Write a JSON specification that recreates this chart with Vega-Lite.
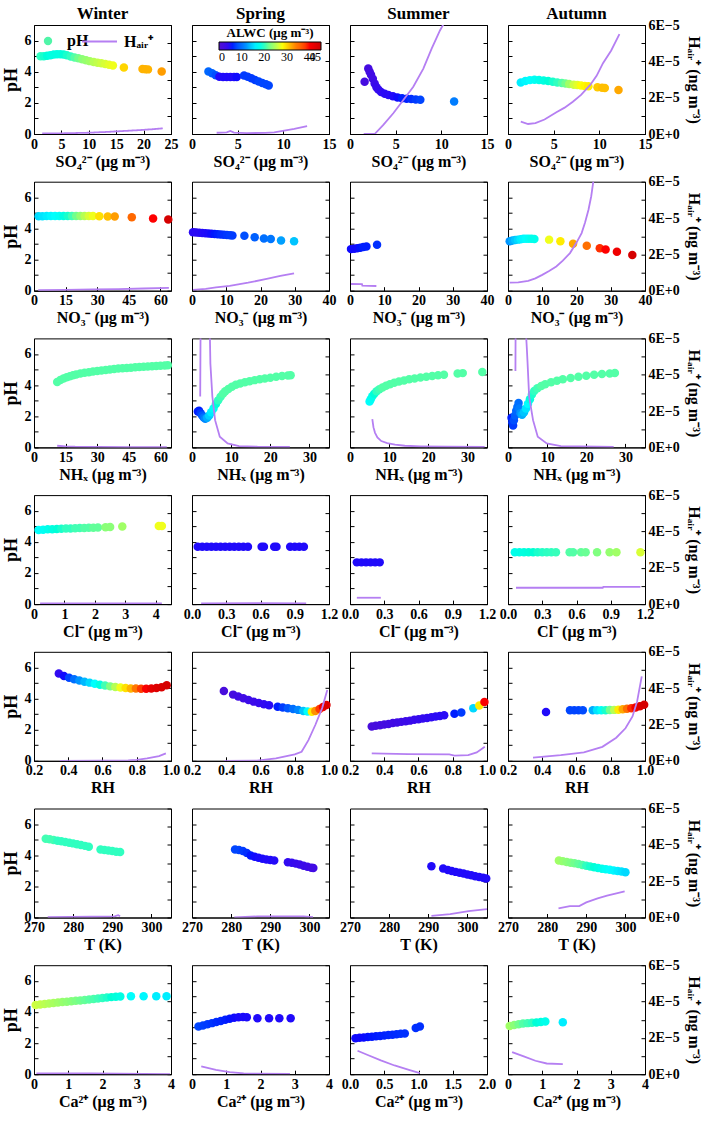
{
"$schema": "https://vega.github.io/schema/vega-lite/v6.json",
"background": "white",
"padding": {"left": 1, "top": 4, "right": 5, "bottom": 5},
"bounds": "flush",
"columns": 4,
"spacing": {"row": 47.7, "column": 21},
"concat": [
{"width": 137, "height": 109, "title": {"text": "Winter"},
 "encoding": {"x": {"field": "x", "type": "quantitative", "scale": {"domain": [0, 25]}, "axis": {"values": [0, 5, 10, 15, 20, 25], "title": "SO₄²⁻ (μg m⁻³)"}}},
 "layer": [
 {"data": {"values": [{"x":1.2,"y":5.0,"a":20},{"x":1.8,"y":5.0,"a":19.5},{"x":2.4,"y":5.02,"a":19},{"x":3.0,"y":5.06,"a":18.5},{"x":3.6,"y":5.1,"a":18.5},{"x":4.2,"y":5.12,"a":18.5},{"x":4.8,"y":5.12,"a":18.5},{"x":5.4,"y":5.1,"a":19},{"x":6.0,"y":5.05,"a":19.5},{"x":6.7,"y":4.98,"a":20},{"x":7.4,"y":4.92,"a":21},{"x":8.1,"y":4.86,"a":22},{"x":8.8,"y":4.8,"a":23},{"x":9.5,"y":4.74,"a":23.5},{"x":10.2,"y":4.68,"a":24},{"x":10.9,"y":4.63,"a":25},{"x":11.6,"y":4.58,"a":25.5},{"x":12.3,"y":4.54,"a":26},{"x":13.0,"y":4.5,"a":26.5},{"x":13.7,"y":4.45,"a":27},{"x":14.4,"y":4.4,"a":27.5},{"x":16.4,"y":4.27,"a":30},{"x":19.8,"y":4.17,"a":31.5},{"x":20.3,"y":4.16,"a":31.5},{"x":20.8,"y":4.15,"a":31.5},{"x":23.3,"y":4.02,"a":32.5}]},
  "mark": {"type": "point", "filled": true, "size": 72, "opacity": 1},
  "encoding": {
   "y": {"field": "y", "type": "quantitative", "scale": {"domain": [0, 7]}, "axis": {"orient": "left", "values": [0,1,2,3,4,5,6], "labelExpr": "datum.value % 2 == 0 ? datum.label : ''", "title": "pH", "titleFontSize": 18, "titlePadding": 4}},
   "color": {"field": "a", "type": "quantitative", "scale": {"domain": [0,5.625,11.25,16.875,22.5,28.125,33.75,39.375,45], "range": ["#5010d0","#0a0aff","#0080ff","#00ffff","#80ff80","#ffff00","#ff8000","#ff0000","#cc0000"]}, "legend": {"orient": "none", "legendX": 185, "legendY": 2, "direction": "horizontal", "title": "ALWC (μg m⁻³)", "titleFont": "Liberation Serif", "titleFontSize": 13, "titleFontWeight": "bold", "titleColor": "black", "titleAnchor": "middle", "titlePadding": 2, "gradientLength": 102, "gradientThickness": 8, "gradientStrokeColor": "black", "gradientStrokeWidth": 1, "values": [0, 10, 20, 30, 40, 45], "labelFont": "Liberation Serif", "labelFontSize": 12, "labelFontWeight": "normal", "labelColor": "black", "labelOverlap": false, "labelOffset": 2, "padding": 0}},
   "shape": {"datum": "pH", "type": "nominal", "scale": {"range": ["circle"]}, "legend": {"orient": "none", "legendX": 6, "legendY": 8, "title": null, "symbolSize": 70, "symbolFillColor": "#50f5a8", "symbolStrokeWidth": 0, "labelFont": "Liberation Serif", "labelFontSize": 16, "labelFontWeight": "bold", "labelColor": "black", "labelOffset": 11, "padding": 0}}
  }},
 {"data": {"values": [{"x":1.5,"h":3e-7},{"x":4,"h":3e-7},{"x":7,"h":5e-7},{"x":10,"h":7e-7},{"x":13,"h":1.1e-6},{"x":16,"h":1.6e-6},{"x":19,"h":2.1e-6},{"x":21.5,"h":2.6e-6},{"x":23.5,"h":3.1e-6}]},
  "mark": {"type": "line", "color": "#b57ff2", "strokeWidth": 1.8, "clip": true},
  "encoding": {
   "y": {"field": "h", "type": "quantitative", "scale": {"domain": [0, 0.00006]}, "axis": {"orient": "right", "values": [0,0.00001,0.00002,0.00003,0.00004,0.00005,0.00006], "labels": false, "title": null}},
   "strokeDash": {"datum": "Hₐᵢᵣ⁺", "type": "nominal", "scale": {"range": [[1, 0]]}, "legend": {"orient": "none", "legendX": 47, "legendY": -2, "title": null, "symbolSize": 1225, "symbolStrokeWidth": 2, "labelFont": "Liberation Serif", "labelFontSize": 16, "labelFontWeight": "bold", "labelColor": "black", "labelOffset": 6, "padding": 0}}
  }}
], "resolve": {"scale": {"y": "independent"}}},
{"width": 137, "height": 109, "title": {"text": "Spring"},
 "encoding": {"x": {"field": "x", "type": "quantitative", "scale": {"domain": [0, 15]}, "axis": {"values": [0, 5, 10, 15], "title": "SO₄²⁻ (μg m⁻³)"}}},
 "layer": [
 {"data": {"values": [{"x":1.8,"y":4.02,"a":9.5},{"x":2.2,"y":3.9,"a":9},{"x":2.6,"y":3.78,"a":8},{"x":3.0,"y":3.68,"a":5},{"x":3.4,"y":3.66,"a":5},{"x":3.8,"y":3.66,"a":5},{"x":4.2,"y":3.66,"a":5},{"x":4.6,"y":3.66,"a":5},{"x":4.9,"y":3.66,"a":5.5},{"x":5.7,"y":3.76,"a":7},{"x":6.1,"y":3.68,"a":7},{"x":6.5,"y":3.58,"a":7},{"x":6.9,"y":3.47,"a":7},{"x":7.3,"y":3.37,"a":7.5},{"x":7.7,"y":3.28,"a":7.5},{"x":8.1,"y":3.19,"a":7.5},{"x":8.4,"y":3.12,"a":7.5}]},
  "mark": {"type": "point", "filled": true, "size": 72, "opacity": 1},
  "encoding": {
   "y": {"field": "y", "type": "quantitative", "scale": {"domain": [0, 7]}, "axis": {"orient": "left", "values": [0,1,2,3,4,5,6], "labels": false, "title": null}},
   "color": {"field": "a", "type": "quantitative", "scale": {"domain": [0,5.625,11.25,16.875,22.5,28.125,33.75,39.375,45], "range": ["#5010d0","#0a0aff","#0080ff","#00ffff","#80ff80","#ffff00","#ff8000","#ff0000","#cc0000"]}}
  }},
 {"data": {"values": [{"x":2.7,"h":7e-7},{"x":3.8,"h":9e-7},{"x":4.2,"h":1.7e-6},{"x":4.6,"h":8e-7},{"x":6,"h":5e-7},{"x":8,"h":6e-7},{"x":9,"h":9e-7},{"x":10.1,"h":1.8e-6},{"x":11.2,"h":2.8e-6},{"x":12.6,"h":4.4e-6}]},
  "mark": {"type": "line", "color": "#b57ff2", "strokeWidth": 1.8, "clip": true},
  "encoding": {
   "y": {"field": "h", "type": "quantitative", "scale": {"domain": [0, 0.00006]}, "axis": {"orient": "right", "values": [0,0.00001,0.00002,0.00003,0.00004,0.00005,0.00006], "labels": false, "title": null}}
  }}
], "resolve": {"scale": {"y": "independent"}}},
{"width": 137, "height": 109, "title": {"text": "Summer"},
 "encoding": {"x": {"field": "x", "type": "quantitative", "scale": {"domain": [0, 15]}, "axis": {"values": [0, 5, 10, 15], "title": "SO₄²⁻ (μg m⁻³)"}}},
 "layer": [
 {"data": {"values": [{"x":1.6,"y":3.35,"a":2},{"x":2.0,"y":4.2,"a":2},{"x":2.15,"y":4.0,"a":2},{"x":2.3,"y":3.8,"a":2.5},{"x":2.5,"y":3.55,"a":2.5},{"x":2.7,"y":3.25,"a":3},{"x":2.9,"y":3.0,"a":3.5},{"x":3.1,"y":2.85,"a":3.5},{"x":3.4,"y":2.7,"a":4},{"x":3.8,"y":2.58,"a":4.5},{"x":4.2,"y":2.5,"a":4.5},{"x":4.7,"y":2.42,"a":5},{"x":5.2,"y":2.35,"a":5.5},{"x":5.7,"y":2.3,"a":6},{"x":6.2,"y":2.27,"a":6},{"x":6.7,"y":2.25,"a":6.5},{"x":7.2,"y":2.22,"a":7},{"x":7.7,"y":2.2,"a":7.5},{"x":11.4,"y":2.08,"a":11}]},
  "mark": {"type": "point", "filled": true, "size": 72, "opacity": 1},
  "encoding": {
   "y": {"field": "y", "type": "quantitative", "scale": {"domain": [0, 7]}, "axis": {"orient": "left", "values": [0,1,2,3,4,5,6], "labels": false, "title": null}},
   "color": {"field": "a", "type": "quantitative", "scale": {"domain": [0,5.625,11.25,16.875,22.5,28.125,33.75,39.375,45], "range": ["#5010d0","#0a0aff","#0080ff","#00ffff","#80ff80","#ffff00","#ff8000","#ff0000","#cc0000"]}}
  }},
 {"data": {"values": [{"x":1.5,"h":0},{"x":2.7,"h":0},{"x":3.65,"h":5e-6},{"x":4.74,"h":1.14e-5},{"x":5.84,"h":1.87e-5},{"x":6.93,"h":2.6e-5},{"x":8.03,"h":3.6e-5},{"x":8.94,"h":4.7e-5},{"x":9.85,"h":5.7e-5},{"x":10.4,"h":6.2e-5}]},
  "mark": {"type": "line", "color": "#b57ff2", "strokeWidth": 1.8, "clip": true},
  "encoding": {
   "y": {"field": "h", "type": "quantitative", "scale": {"domain": [0, 0.00006]}, "axis": {"orient": "right", "values": [0,0.00001,0.00002,0.00003,0.00004,0.00005,0.00006], "labels": false, "title": null}}
  }}
], "resolve": {"scale": {"y": "independent"}}},
{"width": 137, "height": 109, "title": {"text": "Autumn", "offset": -5},
 "encoding": {"x": {"field": "x", "type": "quantitative", "scale": {"domain": [0, 15]}, "axis": {"values": [0, 5, 10, 15], "title": "SO₄²⁻ (μg m⁻³)"}}},
 "layer": [
 {"data": {"values": [{"x":1.4,"y":3.3,"a":16},{"x":1.9,"y":3.4,"a":16.5},{"x":2.4,"y":3.46,"a":17},{"x":2.9,"y":3.48,"a":17.5},{"x":3.4,"y":3.47,"a":18},{"x":3.9,"y":3.44,"a":18.5},{"x":4.4,"y":3.4,"a":19},{"x":4.9,"y":3.35,"a":19.5},{"x":5.4,"y":3.3,"a":20},{"x":5.9,"y":3.27,"a":21},{"x":6.3,"y":3.24,"a":22},{"x":6.7,"y":3.21,"a":24},{"x":7.2,"y":3.17,"a":26},{"x":7.6,"y":3.14,"a":27},{"x":8.0,"y":3.11,"a":28},{"x":8.4,"y":3.08,"a":28.5},{"x":8.8,"y":3.06,"a":29},{"x":9.8,"y":3.0,"a":30.5},{"x":10.3,"y":2.97,"a":31},{"x":10.6,"y":2.95,"a":31},{"x":12.1,"y":2.82,"a":32}]},
  "mark": {"type": "point", "filled": true, "size": 72, "opacity": 1},
  "encoding": {
   "y": {"field": "y", "type": "quantitative", "scale": {"domain": [0, 7]}, "axis": {"orient": "left", "values": [0,1,2,3,4,5,6], "labels": false, "title": null}},
   "color": {"field": "a", "type": "quantitative", "scale": {"domain": [0,5.625,11.25,16.875,22.5,28.125,33.75,39.375,45], "range": ["#5010d0","#0a0aff","#0080ff","#00ffff","#80ff80","#ffff00","#ff8000","#ff0000","#cc0000"]}}
  }},
 {"data": {"values": [{"x":1.4,"h":6.8e-6},{"x":2.2,"h":5.5e-6},{"x":3,"h":6e-6},{"x":4,"h":8e-6},{"x":5.3,"h":1.2e-5},{"x":6.2,"h":1.45e-5},{"x":7.1,"h":1.78e-5},{"x":8,"h":2.15e-5},{"x":9,"h":2.7e-5},{"x":9.7,"h":3.2e-5},{"x":10.4,"h":3.9e-5},{"x":11.3,"h":4.6e-5},{"x":12.2,"h":5.5e-5}]},
  "mark": {"type": "line", "color": "#b57ff2", "strokeWidth": 1.8, "clip": true},
  "encoding": {
   "y": {"field": "h", "type": "quantitative", "scale": {"domain": [0, 0.00006]}, "axis": {"orient": "right", "values": [0,0.00001,0.00002,0.00003,0.00004,0.00005,0.00006], "labelExpr": "datum.value == 0 ? '0E+0' : (round(datum.value * 100000) % 2 == 0 ? round(datum.value * 100000) + 'E−5' : '')", "title": "Hₐᵢᵣ⁺ (ng m⁻³)", "titlePadding": 6}}
  }}
], "resolve": {"scale": {"y": "independent"}}},
{"width": 137, "height": 109,
 "encoding": {"x": {"field": "x", "type": "quantitative", "scale": {"domain": [0, 65]}, "axis": {"values": [0, 15, 30, 45, 60], "title": "NO₃⁻ (μg m⁻³)"}}},
 "layer": [
 {"data": {"values": [{"x":2.2,"y":4.78,"a":15},{"x":4,"y":4.78,"a":15.5},{"x":6,"y":4.79,"a":16},{"x":8,"y":4.79,"a":16.5},{"x":10,"y":4.79,"a":17},{"x":12,"y":4.79,"a":17.5},{"x":14,"y":4.79,"a":18.5},{"x":16,"y":4.8,"a":19.5},{"x":18,"y":4.8,"a":20.5},{"x":20,"y":4.8,"a":22},{"x":22,"y":4.8,"a":23.5},{"x":24,"y":4.8,"a":25},{"x":26,"y":4.8,"a":26.5},{"x":28,"y":4.79,"a":27.5},{"x":31,"y":4.78,"a":29.5},{"x":35,"y":4.77,"a":31},{"x":38.3,"y":4.76,"a":32.5},{"x":46.4,"y":4.72,"a":35.5},{"x":56.5,"y":4.63,"a":39.5},{"x":63.7,"y":4.57,"a":44}]},
  "mark": {"type": "point", "filled": true, "size": 72, "opacity": 1},
  "encoding": {
   "y": {"field": "y", "type": "quantitative", "scale": {"domain": [0, 7]}, "axis": {"orient": "left", "values": [0,1,2,3,4,5,6], "labelExpr": "datum.value % 2 == 0 ? datum.label : ''", "title": "pH", "titleFontSize": 18, "titlePadding": 4}},
   "color": {"field": "a", "type": "quantitative", "scale": {"domain": [0,5.625,11.25,16.875,22.5,28.125,33.75,39.375,45], "range": ["#5010d0","#0a0aff","#0080ff","#00ffff","#80ff80","#ffff00","#ff8000","#ff0000","#cc0000"]}}
  }},
 {"data": {"values": [{"x":2,"h":3e-7},{"x":15,"h":4e-7},{"x":28,"h":7e-7},{"x":40,"h":9e-7},{"x":52,"h":1.2e-6},{"x":64,"h":1.6e-6}]},
  "mark": {"type": "line", "color": "#b57ff2", "strokeWidth": 1.8, "clip": true},
  "encoding": {
   "y": {"field": "h", "type": "quantitative", "scale": {"domain": [0, 0.00006]}, "axis": {"orient": "right", "values": [0,0.00001,0.00002,0.00003,0.00004,0.00005,0.00006], "labels": false, "title": null}}
  }}
], "resolve": {"scale": {"y": "independent"}}},
{"width": 137, "height": 109,
 "encoding": {"x": {"field": "x", "type": "quantitative", "scale": {"domain": [0, 40]}, "axis": {"values": [0, 10, 20, 30, 40], "title": "NO₃⁻ (μg m⁻³)"}}},
 "layer": [
 {"data": {"values": [{"x":0.3,"y":3.75,"a":4.5},{"x":1.2,"y":3.74,"a":4.5},{"x":2.1,"y":3.72,"a":4.5},{"x":3.0,"y":3.71,"a":4.8},{"x":3.9,"y":3.69,"a":5},{"x":4.8,"y":3.68,"a":5.2},{"x":5.7,"y":3.66,"a":5.5},{"x":6.6,"y":3.64,"a":5.8},{"x":7.5,"y":3.63,"a":6},{"x":8.4,"y":3.61,"a":6.3},{"x":9.3,"y":3.6,"a":6.5},{"x":10.2,"y":3.58,"a":6.8},{"x":11.1,"y":3.56,"a":7},{"x":11.8,"y":3.55,"a":7},{"x":15.3,"y":3.53,"a":8},{"x":18.3,"y":3.43,"a":9},{"x":21,"y":3.35,"a":10},{"x":23,"y":3.32,"a":10.5},{"x":26,"y":3.23,"a":12.5},{"x":29.8,"y":3.17,"a":14}]},
  "mark": {"type": "point", "filled": true, "size": 72, "opacity": 1},
  "encoding": {
   "y": {"field": "y", "type": "quantitative", "scale": {"domain": [0, 7]}, "axis": {"orient": "left", "values": [0,1,2,3,4,5,6], "labels": false, "title": null}},
   "color": {"field": "a", "type": "quantitative", "scale": {"domain": [0,5.625,11.25,16.875,22.5,28.125,33.75,39.375,45], "range": ["#5010d0","#0a0aff","#0080ff","#00ffff","#80ff80","#ffff00","#ff8000","#ff0000","#cc0000"]}}
  }},
 {"data": {"values": [{"x":0.3,"h":4e-7},{"x":4,"h":1e-6},{"x":7,"h":1.8e-6},{"x":11,"h":2.6e-6},{"x":16.4,"h":4.4e-6},{"x":21.8,"h":6.5e-6},{"x":25.8,"h":8.1e-6},{"x":29.8,"h":9.6e-6}]},
  "mark": {"type": "line", "color": "#b57ff2", "strokeWidth": 1.8, "clip": true},
  "encoding": {
   "y": {"field": "h", "type": "quantitative", "scale": {"domain": [0, 0.00006]}, "axis": {"orient": "right", "values": [0,0.00001,0.00002,0.00003,0.00004,0.00005,0.00006], "labels": false, "title": null}}
  }}
], "resolve": {"scale": {"y": "independent"}}},
{"width": 137, "height": 109,
 "encoding": {"x": {"field": "x", "type": "quantitative", "scale": {"domain": [0, 40]}, "axis": {"values": [0, 10, 20, 30, 40], "title": "NO₃⁻ (μg m⁻³)"}}},
 "layer": [
 {"data": {"values": [{"x":0.3,"y":2.67,"a":5.5},{"x":1.2,"y":2.7,"a":5.5},{"x":2.1,"y":2.73,"a":5.5},{"x":3.0,"y":2.76,"a":5.8},{"x":3.9,"y":2.8,"a":6},{"x":4.8,"y":2.84,"a":6},{"x":7.9,"y":2.95,"a":6.5}]},
  "mark": {"type": "point", "filled": true, "size": 72, "opacity": 1},
  "encoding": {
   "y": {"field": "y", "type": "quantitative", "scale": {"domain": [0, 7]}, "axis": {"orient": "left", "values": [0,1,2,3,4,5,6], "labels": false, "title": null}},
   "color": {"field": "a", "type": "quantitative", "scale": {"domain": [0,5.625,11.25,16.875,22.5,28.125,33.75,39.375,45], "range": ["#5010d0","#0a0aff","#0080ff","#00ffff","#80ff80","#ffff00","#ff8000","#ff0000","#cc0000"]}}
  }},
 {"data": {"values": [{"x":0.3,"h":3.7e-6},{"x":3.5,"h":3.6e-6},{"x":3.6,"h":2.8e-6},{"x":7.7,"h":2.6e-6}]},
  "mark": {"type": "line", "color": "#b57ff2", "strokeWidth": 1.8, "clip": true},
  "encoding": {
   "y": {"field": "h", "type": "quantitative", "scale": {"domain": [0, 0.00006]}, "axis": {"orient": "right", "values": [0,0.00001,0.00002,0.00003,0.00004,0.00005,0.00006], "labels": false, "title": null}}
  }}
], "resolve": {"scale": {"y": "independent"}}},
{"width": 137, "height": 109,
 "encoding": {"x": {"field": "x", "type": "quantitative", "scale": {"domain": [0, 40]}, "axis": {"values": [0, 10, 20, 30, 40], "title": "NO₃⁻ (μg m⁻³)"}}},
 "layer": [
 {"data": {"values": [{"x":0.5,"y":3.17,"a":12},{"x":1.3,"y":3.22,"a":13},{"x":2.1,"y":3.26,"a":14},{"x":2.9,"y":3.28,"a":15},{"x":3.7,"y":3.31,"a":16},{"x":4.5,"y":3.33,"a":16.5},{"x":5.3,"y":3.34,"a":17},{"x":6.1,"y":3.34,"a":17.5},{"x":6.9,"y":3.33,"a":18},{"x":7.7,"y":3.32,"a":18},{"x":12,"y":3.28,"a":27.5},{"x":15.3,"y":3.17,"a":29},{"x":19,"y":3.02,"a":32},{"x":23,"y":2.89,"a":35},{"x":26.8,"y":2.72,"a":38.5},{"x":28.5,"y":2.65,"a":39.5},{"x":31.8,"y":2.5,"a":41},{"x":36.3,"y":2.3,"a":44}]},
  "mark": {"type": "point", "filled": true, "size": 72, "opacity": 1},
  "encoding": {
   "y": {"field": "y", "type": "quantitative", "scale": {"domain": [0, 7]}, "axis": {"orient": "left", "values": [0,1,2,3,4,5,6], "labels": false, "title": null}},
   "color": {"field": "a", "type": "quantitative", "scale": {"domain": [0,5.625,11.25,16.875,22.5,28.125,33.75,39.375,45], "range": ["#5010d0","#0a0aff","#0080ff","#00ffff","#80ff80","#ffff00","#ff8000","#ff0000","#cc0000"]}}
  }},
 {"data": {"values": [{"x":0.5,"h":4.4e-6},{"x":3,"h":4.6e-6},{"x":5.9,"h":5.4e-6},{"x":8,"h":6.8e-6},{"x":10,"h":8.7e-6},{"x":12,"h":1.08e-5},{"x":14.1,"h":1.33e-5},{"x":16,"h":1.65e-5},{"x":18.1,"h":2.07e-5},{"x":20,"h":2.65e-5},{"x":21.5,"h":3.17e-5},{"x":22.5,"h":3.75e-5},{"x":23.5,"h":4.46e-5},{"x":24.3,"h":5.2e-5},{"x":24.9,"h":6.0e-5},{"x":25.4,"h":6.7e-5}]},
  "mark": {"type": "line", "color": "#b57ff2", "strokeWidth": 1.8, "clip": true},
  "encoding": {
   "y": {"field": "h", "type": "quantitative", "scale": {"domain": [0, 0.00006]}, "axis": {"orient": "right", "values": [0,0.00001,0.00002,0.00003,0.00004,0.00005,0.00006], "labelExpr": "datum.value == 0 ? '0E+0' : (round(datum.value * 100000) % 2 == 0 ? round(datum.value * 100000) + 'E−5' : '')", "title": "Hₐᵢᵣ⁺ (ng m⁻³)", "titlePadding": 6}}
  }}
], "resolve": {"scale": {"y": "independent"}}},
{"width": 137, "height": 109,
 "encoding": {"x": {"field": "x", "type": "quantitative", "scale": {"domain": [0, 65]}, "axis": {"values": [0, 15, 30, 45, 60], "title": "NHₓ (μg m⁻³)"}}},
 "layer": [
 {"data": {"values": [{"x":11,"y":4.2,"a":21},{"x":12.5,"y":4.33,"a":21},{"x":14,"y":4.42,"a":21},{"x":15.5,"y":4.5,"a":21},{"x":17,"y":4.57,"a":21},{"x":18.5,"y":4.63,"a":21},{"x":20,"y":4.68,"a":21},{"x":22,"y":4.74,"a":21},{"x":24,"y":4.79,"a":21},{"x":26,"y":4.83,"a":21},{"x":28,"y":4.87,"a":21},{"x":30,"y":4.91,"a":21},{"x":32,"y":4.94,"a":21},{"x":34,"y":4.97,"a":21},{"x":36,"y":5.0,"a":21},{"x":38,"y":5.03,"a":21},{"x":40,"y":5.06,"a":21},{"x":42,"y":5.08,"a":21},{"x":44,"y":5.1,"a":21},{"x":46,"y":5.12,"a":21},{"x":48,"y":5.14,"a":21},{"x":50,"y":5.16,"a":21},{"x":52,"y":5.18,"a":21},{"x":54,"y":5.2,"a":21},{"x":56,"y":5.21,"a":21},{"x":58,"y":5.23,"a":21},{"x":60,"y":5.24,"a":21},{"x":62,"y":5.26,"a":21},{"x":63.5,"y":5.27,"a":21}]},
  "mark": {"type": "point", "filled": true, "size": 72, "opacity": 1},
  "encoding": {
   "y": {"field": "y", "type": "quantitative", "scale": {"domain": [0, 7]}, "axis": {"orient": "left", "values": [0,1,2,3,4,5,6], "labelExpr": "datum.value % 2 == 0 ? datum.label : ''", "title": "pH", "titleFontSize": 18, "titlePadding": 4}},
   "color": {"field": "a", "type": "quantitative", "scale": {"domain": [0,5.625,11.25,16.875,22.5,28.125,33.75,39.375,45], "range": ["#5010d0","#0a0aff","#0080ff","#00ffff","#80ff80","#ffff00","#ff8000","#ff0000","#cc0000"]}}
  }},
 {"data": {"values": [{"x":11,"h":9e-7},{"x":15,"h":6e-7},{"x":19.5,"h":4e-7},{"x":30,"h":3e-7},{"x":45,"h":2e-7},{"x":63,"h":2e-7}]},
  "mark": {"type": "line", "color": "#b57ff2", "strokeWidth": 1.8, "clip": true},
  "encoding": {
   "y": {"field": "h", "type": "quantitative", "scale": {"domain": [0, 0.00006]}, "axis": {"orient": "right", "values": [0,0.00001,0.00002,0.00003,0.00004,0.00005,0.00006], "labels": false, "title": null}}
  }}
], "resolve": {"scale": {"y": "independent"}}},
{"width": 137, "height": 109,
 "encoding": {"x": {"field": "x", "type": "quantitative", "scale": {"domain": [0, 35]}, "axis": {"values": [0, 10, 20, 30], "title": "NHₓ (μg m⁻³)"}}},
 "layer": [
 {"data": {"values": [{"x":1.5,"y":2.3,"a":6},{"x":1.8,"y":2.35,"a":6},{"x":2.2,"y":2.2,"a":7},{"x":2.6,"y":2.05,"a":8.5},{"x":3.0,"y":1.92,"a":10},{"x":3.4,"y":1.84,"a":11.5},{"x":3.9,"y":1.9,"a":13},{"x":4.4,"y":2.05,"a":14.5},{"x":4.9,"y":2.25,"a":16},{"x":5.5,"y":2.5,"a":17.5},{"x":6.1,"y":2.78,"a":19},{"x":6.7,"y":3.02,"a":20},{"x":7.3,"y":3.25,"a":20.5},{"x":7.9,"y":3.45,"a":21},{"x":8.5,"y":3.6,"a":21},{"x":9.3,"y":3.75,"a":21},{"x":10.2,"y":3.9,"a":21},{"x":11.2,"y":4.02,"a":21},{"x":12.3,"y":4.1,"a":21},{"x":13.5,"y":4.18,"a":21},{"x":14.7,"y":4.25,"a":21},{"x":16,"y":4.32,"a":21},{"x":17.3,"y":4.38,"a":21},{"x":18.6,"y":4.43,"a":21},{"x":20,"y":4.48,"a":21},{"x":21.5,"y":4.53,"a":21},{"x":23,"y":4.58,"a":21},{"x":24.5,"y":4.62,"a":21},{"x":25.2,"y":4.64,"a":21}]},
  "mark": {"type": "point", "filled": true, "size": 72, "opacity": 1},
  "encoding": {
   "y": {"field": "y", "type": "quantitative", "scale": {"domain": [0, 7]}, "axis": {"orient": "left", "values": [0,1,2,3,4,5,6], "labels": false, "title": null}},
   "color": {"field": "a", "type": "quantitative", "scale": {"domain": [0,5.625,11.25,16.875,22.5,28.125,33.75,39.375,45], "range": ["#5010d0","#0a0aff","#0080ff","#00ffff","#80ff80","#ffff00","#ff8000","#ff0000","#cc0000"]}}
  }},
 {"data": {"values": [{"x":2.1,"h":2.8e-5},{"x":2.2,"h":7e-5},{"x":4.5,"h":7e-5},{"x":4.7,"h":4.6e-5},{"x":5.2,"h":2.8e-5},{"x":5.9,"h":1.5e-5},{"x":7.1,"h":5.9e-6},{"x":9.1,"h":2.2e-6},{"x":12,"h":7e-7},{"x":16.7,"h":4e-7},{"x":25,"h":3e-7}]},
  "mark": {"type": "line", "color": "#b57ff2", "strokeWidth": 1.8, "clip": true},
  "encoding": {
   "y": {"field": "h", "type": "quantitative", "scale": {"domain": [0, 0.00006]}, "axis": {"orient": "right", "values": [0,0.00001,0.00002,0.00003,0.00004,0.00005,0.00006], "labels": false, "title": null}}
  }}
], "resolve": {"scale": {"y": "independent"}}},
{"width": 137, "height": 109,
 "encoding": {"x": {"field": "x", "type": "quantitative", "scale": {"domain": [0, 35]}, "axis": {"values": [0, 10, 20, 30], "title": "NHₓ (μg m⁻³)"}}},
 "layer": [
 {"data": {"values": [{"x":5.0,"y":2.95,"a":17},{"x":5.3,"y":3.1,"a":17.5},{"x":5.7,"y":3.28,"a":18},{"x":6.2,"y":3.45,"a":19},{"x":6.8,"y":3.6,"a":20},{"x":7.5,"y":3.73,"a":20.5},{"x":8.3,"y":3.85,"a":21},{"x":9.2,"y":3.96,"a":21},{"x":10.2,"y":4.06,"a":21},{"x":11.3,"y":4.15,"a":21},{"x":12.5,"y":4.23,"a":21},{"x":13.8,"y":4.3,"a":21},{"x":15.1,"y":4.37,"a":21},{"x":16.5,"y":4.43,"a":21},{"x":18,"y":4.49,"a":21},{"x":19.5,"y":4.54,"a":21},{"x":21,"y":4.59,"a":21},{"x":22.5,"y":4.63,"a":21},{"x":24,"y":4.67,"a":21},{"x":27.5,"y":4.75,"a":21},{"x":28.8,"y":4.77,"a":21},{"x":33.8,"y":4.84,"a":21}]},
  "mark": {"type": "point", "filled": true, "size": 72, "opacity": 1},
  "encoding": {
   "y": {"field": "y", "type": "quantitative", "scale": {"domain": [0, 7]}, "axis": {"orient": "left", "values": [0,1,2,3,4,5,6], "labels": false, "title": null}},
   "color": {"field": "a", "type": "quantitative", "scale": {"domain": [0,5.625,11.25,16.875,22.5,28.125,33.75,39.375,45], "range": ["#5010d0","#0a0aff","#0080ff","#00ffff","#80ff80","#ffff00","#ff8000","#ff0000","#cc0000"]}}
  }},
 {"data": {"values": [{"x":5.7,"h":1.55e-5},{"x":6.0,"h":1.1e-5},{"x":6.4,"h":8e-6},{"x":7.0,"h":5.5e-6},{"x":8.0,"h":3.5e-6},{"x":9.5,"h":2.4e-6},{"x":11.5,"h":1.5e-6},{"x":14,"h":9e-7},{"x":18,"h":6e-7},{"x":25,"h":4e-7},{"x":34.4,"h":3e-7}]},
  "mark": {"type": "line", "color": "#b57ff2", "strokeWidth": 1.8, "clip": true},
  "encoding": {
   "y": {"field": "h", "type": "quantitative", "scale": {"domain": [0, 0.00006]}, "axis": {"orient": "right", "values": [0,0.00001,0.00002,0.00003,0.00004,0.00005,0.00006], "labels": false, "title": null}}
  }}
], "resolve": {"scale": {"y": "independent"}}},
{"width": 137, "height": 109,
 "encoding": {"x": {"field": "x", "type": "quantitative", "scale": {"domain": [0, 35]}, "axis": {"values": [0, 10, 20, 30], "title": "NHₓ (μg m⁻³)"}}},
 "layer": [
 {"data": {"values": [{"x":0.9,"y":1.9,"a":6},{"x":1.1,"y":1.6,"a":6.5},{"x":1.3,"y":1.4,"a":7},{"x":1.5,"y":1.75,"a":8},{"x":1.8,"y":2.05,"a":9},{"x":2.1,"y":2.35,"a":9.5},{"x":2.4,"y":2.6,"a":10},{"x":2.7,"y":2.85,"a":10},{"x":2.9,"y":2.5,"a":11},{"x":3.2,"y":2.2,"a":12},{"x":3.6,"y":2.1,"a":13},{"x":4.1,"y":2.25,"a":14},{"x":4.6,"y":2.5,"a":15.5},{"x":5.1,"y":2.8,"a":17},{"x":5.6,"y":3.1,"a":18.5},{"x":6.1,"y":3.4,"a":19.5},{"x":6.7,"y":3.62,"a":20},{"x":7.5,"y":3.8,"a":20.5},{"x":8.5,"y":3.95,"a":21},{"x":9.5,"y":4.05,"a":21},{"x":11,"y":4.18,"a":21},{"x":12.5,"y":4.28,"a":21},{"x":14,"y":4.37,"a":21},{"x":16,"y":4.45,"a":21},{"x":18,"y":4.53,"a":21},{"x":20,"y":4.6,"a":21},{"x":22,"y":4.66,"a":21},{"x":24,"y":4.71,"a":21},{"x":26,"y":4.75,"a":21},{"x":27.3,"y":4.78,"a":21}]},
  "mark": {"type": "point", "filled": true, "size": 72, "opacity": 1},
  "encoding": {
   "y": {"field": "y", "type": "quantitative", "scale": {"domain": [0, 7]}, "axis": {"orient": "left", "values": [0,1,2,3,4,5,6], "labels": false, "title": null}},
   "color": {"field": "a", "type": "quantitative", "scale": {"domain": [0,5.625,11.25,16.875,22.5,28.125,33.75,39.375,45], "range": ["#5010d0","#0a0aff","#0080ff","#00ffff","#80ff80","#ffff00","#ff8000","#ff0000","#cc0000"]}}
  }},
 {"data": {"values": [{"x":1.9,"h":4.2e-5},{"x":1.95,"h":7e-5},{"x":4.4,"h":7e-5},{"x":4.8,"h":5.5e-5},{"x":5.0,"h":4.65e-5},{"x":5.4,"h":2.8e-5},{"x":6.4,"h":1.5e-5},{"x":7.6,"h":5.9e-6},{"x":9.9,"h":2.2e-6},{"x":13.5,"h":7e-7},{"x":23,"h":4e-7},{"x":27,"h":3e-7}]},
  "mark": {"type": "line", "color": "#b57ff2", "strokeWidth": 1.8, "clip": true},
  "encoding": {
   "y": {"field": "h", "type": "quantitative", "scale": {"domain": [0, 0.00006]}, "axis": {"orient": "right", "values": [0,0.00001,0.00002,0.00003,0.00004,0.00005,0.00006], "labelExpr": "datum.value == 0 ? '0E+0' : (round(datum.value * 100000) % 2 == 0 ? round(datum.value * 100000) + 'E−5' : '')", "title": "Hₐᵢᵣ⁺ (ng m⁻³)", "titlePadding": 6}}
  }}
], "resolve": {"scale": {"y": "independent"}}},
{"width": 137, "height": 109,
 "encoding": {"x": {"field": "x", "type": "quantitative", "scale": {"domain": [0, 4.5]}, "axis": {"values": [0, 1, 2, 3, 4], "title": "Cl⁻ (μg m⁻³)"}}},
 "layer": [
 {"data": {"values": [{"x":0.15,"y":4.76,"a":17},{"x":0.3,"y":4.78,"a":17.5},{"x":0.45,"y":4.8,"a":18},{"x":0.6,"y":4.81,"a":18.5},{"x":0.75,"y":4.83,"a":19},{"x":0.9,"y":4.84,"a":19.5},{"x":1.05,"y":4.85,"a":20},{"x":1.2,"y":4.86,"a":20},{"x":1.35,"y":4.87,"a":20.5},{"x":1.5,"y":4.88,"a":20.5},{"x":1.65,"y":4.89,"a":21},{"x":1.8,"y":4.9,"a":21},{"x":1.95,"y":4.91,"a":21.5},{"x":2.1,"y":4.92,"a":21.5},{"x":2.35,"y":4.94,"a":23},{"x":2.5,"y":4.95,"a":23},{"x":2.9,"y":4.98,"a":24},{"x":4.1,"y":5.02,"a":27.5},{"x":4.2,"y":5.02,"a":27.5}]},
  "mark": {"type": "point", "filled": true, "size": 72, "opacity": 1},
  "encoding": {
   "y": {"field": "y", "type": "quantitative", "scale": {"domain": [0, 7]}, "axis": {"orient": "left", "values": [0,1,2,3,4,5,6], "labelExpr": "datum.value % 2 == 0 ? datum.label : ''", "title": "pH", "titleFontSize": 18, "titlePadding": 4}},
   "color": {"field": "a", "type": "quantitative", "scale": {"domain": [0,5.625,11.25,16.875,22.5,28.125,33.75,39.375,45], "range": ["#5010d0","#0a0aff","#0080ff","#00ffff","#80ff80","#ffff00","#ff8000","#ff0000","#cc0000"]}}
  }},
 {"data": {"values": [{"x":0.2,"h":4e-7},{"x":4.2,"h":4e-7}]},
  "mark": {"type": "line", "color": "#b57ff2", "strokeWidth": 1.8, "clip": true},
  "encoding": {
   "y": {"field": "h", "type": "quantitative", "scale": {"domain": [0, 0.00006]}, "axis": {"orient": "right", "values": [0,0.00001,0.00002,0.00003,0.00004,0.00005,0.00006], "labels": false, "title": null}}
  }}
], "resolve": {"scale": {"y": "independent"}}},
{"width": 137, "height": 109,
 "encoding": {"x": {"field": "x", "type": "quantitative", "scale": {"domain": [0, 1.2]}, "axis": {"values": [0, 0.3, 0.6, 0.9, 1.2], "format": ".1f", "title": "Cl⁻ (μg m⁻³)"}}},
 "layer": [
 {"data": {"values": [{"x":0.05,"y":3.68,"a":5},{"x":0.09,"y":3.68,"a":5},{"x":0.13,"y":3.68,"a":5},{"x":0.17,"y":3.68,"a":5},{"x":0.21,"y":3.68,"a":5},{"x":0.25,"y":3.68,"a":5},{"x":0.29,"y":3.68,"a":5},{"x":0.33,"y":3.68,"a":5},{"x":0.37,"y":3.68,"a":5},{"x":0.41,"y":3.68,"a":5},{"x":0.45,"y":3.68,"a":5},{"x":0.49,"y":3.68,"a":5},{"x":0.61,"y":3.68,"a":5},{"x":0.63,"y":3.68,"a":5},{"x":0.72,"y":3.68,"a":5},{"x":0.74,"y":3.68,"a":5},{"x":0.86,"y":3.68,"a":5},{"x":0.9,"y":3.68,"a":5},{"x":0.94,"y":3.68,"a":5},{"x":0.98,"y":3.68,"a":5}]},
  "mark": {"type": "point", "filled": true, "size": 72, "opacity": 1},
  "encoding": {
   "y": {"field": "y", "type": "quantitative", "scale": {"domain": [0, 7]}, "axis": {"orient": "left", "values": [0,1,2,3,4,5,6], "labels": false, "title": null}},
   "color": {"field": "a", "type": "quantitative", "scale": {"domain": [0,5.625,11.25,16.875,22.5,28.125,33.75,39.375,45], "range": ["#5010d0","#0a0aff","#0080ff","#00ffff","#80ff80","#ffff00","#ff8000","#ff0000","#cc0000"]}}
  }},
 {"data": {"values": [{"x":0.08,"h":4e-7},{"x":0.6,"h":5e-7},{"x":1.0,"h":4e-7}]},
  "mark": {"type": "line", "color": "#b57ff2", "strokeWidth": 1.8, "clip": true},
  "encoding": {
   "y": {"field": "h", "type": "quantitative", "scale": {"domain": [0, 0.00006]}, "axis": {"orient": "right", "values": [0,0.00001,0.00002,0.00003,0.00004,0.00005,0.00006], "labels": false, "title": null}}
  }}
], "resolve": {"scale": {"y": "independent"}}},
{"width": 137, "height": 109,
 "encoding": {"x": {"field": "x", "type": "quantitative", "scale": {"domain": [0, 1.2]}, "axis": {"values": [0, 0.3, 0.6, 0.9, 1.2], "format": ".1f", "title": "Cl⁻ (μg m⁻³)"}}},
 "layer": [
 {"data": {"values": [{"x":0.06,"y":2.68,"a":5},{"x":0.1,"y":2.68,"a":5},{"x":0.14,"y":2.68,"a":5},{"x":0.18,"y":2.68,"a":5},{"x":0.22,"y":2.68,"a":5},{"x":0.26,"y":2.68,"a":5}]},
  "mark": {"type": "point", "filled": true, "size": 72, "opacity": 1},
  "encoding": {
   "y": {"field": "y", "type": "quantitative", "scale": {"domain": [0, 7]}, "axis": {"orient": "left", "values": [0,1,2,3,4,5,6], "labels": false, "title": null}},
   "color": {"field": "a", "type": "quantitative", "scale": {"domain": [0,5.625,11.25,16.875,22.5,28.125,33.75,39.375,45], "range": ["#5010d0","#0a0aff","#0080ff","#00ffff","#80ff80","#ffff00","#ff8000","#ff0000","#cc0000"]}}
  }},
 {"data": {"values": [{"x":0.06,"h":3.5e-6},{"x":0.27,"h":3.5e-6}]},
  "mark": {"type": "line", "color": "#b57ff2", "strokeWidth": 1.8, "clip": true},
  "encoding": {
   "y": {"field": "h", "type": "quantitative", "scale": {"domain": [0, 0.00006]}, "axis": {"orient": "right", "values": [0,0.00001,0.00002,0.00003,0.00004,0.00005,0.00006], "labels": false, "title": null}}
  }}
], "resolve": {"scale": {"y": "independent"}}},
{"width": 137, "height": 109,
 "encoding": {"x": {"field": "x", "type": "quantitative", "scale": {"domain": [0, 1.2]}, "axis": {"values": [0, 0.3, 0.6, 0.9, 1.2], "format": ".1f", "title": "Cl⁻ (μg m⁻³)"}}},
 "layer": [
 {"data": {"values": [{"x":0.06,"y":3.33,"a":18},{"x":0.1,"y":3.33,"a":18.3},{"x":0.14,"y":3.33,"a":18.6},{"x":0.18,"y":3.33,"a":18.9},{"x":0.22,"y":3.33,"a":19.2},{"x":0.26,"y":3.33,"a":19.5},{"x":0.3,"y":3.33,"a":19.7},{"x":0.34,"y":3.33,"a":19.9},{"x":0.38,"y":3.33,"a":20},{"x":0.42,"y":3.33,"a":20.2},{"x":0.54,"y":3.33,"a":21},{"x":0.57,"y":3.33,"a":21},{"x":0.64,"y":3.33,"a":21.5},{"x":0.68,"y":3.33,"a":21.7},{"x":0.78,"y":3.33,"a":22.5},{"x":0.89,"y":3.33,"a":23.5},{"x":0.95,"y":3.33,"a":24},{"x":1.16,"y":3.33,"a":26.5}]},
  "mark": {"type": "point", "filled": true, "size": 72, "opacity": 1},
  "encoding": {
   "y": {"field": "y", "type": "quantitative", "scale": {"domain": [0, 7]}, "axis": {"orient": "left", "values": [0,1,2,3,4,5,6], "labels": false, "title": null}},
   "color": {"field": "a", "type": "quantitative", "scale": {"domain": [0,5.625,11.25,16.875,22.5,28.125,33.75,39.375,45], "range": ["#5010d0","#0a0aff","#0080ff","#00ffff","#80ff80","#ffff00","#ff8000","#ff0000","#cc0000"]}}
  }},
 {"data": {"values": [{"x":0.07,"h":9e-6},{"x":0.83,"h":9e-6},{"x":0.835,"h":9.5e-6},{"x":1.16,"h":9.5e-6}]},
  "mark": {"type": "line", "color": "#b57ff2", "strokeWidth": 1.8, "clip": true},
  "encoding": {
   "y": {"field": "h", "type": "quantitative", "scale": {"domain": [0, 0.00006]}, "axis": {"orient": "right", "values": [0,0.00001,0.00002,0.00003,0.00004,0.00005,0.00006], "labelExpr": "datum.value == 0 ? '0E+0' : (round(datum.value * 100000) % 2 == 0 ? round(datum.value * 100000) + 'E−5' : '')", "title": "Hₐᵢᵣ⁺ (ng m⁻³)", "titlePadding": 6}}
  }}
], "resolve": {"scale": {"y": "independent"}}},
{"width": 137, "height": 109,
 "encoding": {"x": {"field": "x", "type": "quantitative", "scale": {"domain": [0.2, 1.0]}, "axis": {"values": [0.2, 0.4, 0.6, 0.8, 1.0], "format": ".1f", "title": "RH"}}},
 "layer": [
 {"data": {"values": [{"x":0.345,"y":5.6,"a":4},{"x":0.375,"y":5.45,"a":5.5},{"x":0.405,"y":5.33,"a":7.5},{"x":0.435,"y":5.24,"a":10},{"x":0.465,"y":5.15,"a":12},{"x":0.495,"y":5.08,"a":13.5},{"x":0.525,"y":5.02,"a":15},{"x":0.555,"y":4.95,"a":17},{"x":0.585,"y":4.88,"a":18.5},{"x":0.615,"y":4.83,"a":20.5},{"x":0.645,"y":4.78,"a":22.5},{"x":0.675,"y":4.74,"a":25},{"x":0.705,"y":4.71,"a":27.5},{"x":0.735,"y":4.68,"a":29.5},{"x":0.765,"y":4.65,"a":31.5},{"x":0.795,"y":4.64,"a":34.5},{"x":0.825,"y":4.63,"a":38},{"x":0.855,"y":4.63,"a":40},{"x":0.885,"y":4.65,"a":42},{"x":0.915,"y":4.68,"a":43},{"x":0.945,"y":4.72,"a":43.5},{"x":0.975,"y":4.85,"a":44}]},
  "mark": {"type": "point", "filled": true, "size": 72, "opacity": 1},
  "encoding": {
   "y": {"field": "y", "type": "quantitative", "scale": {"domain": [0, 7]}, "axis": {"orient": "left", "values": [0,1,2,3,4,5,6], "labelExpr": "datum.value % 2 == 0 ? datum.label : ''", "title": "pH", "titleFontSize": 18, "titlePadding": 4}},
   "color": {"field": "a", "type": "quantitative", "scale": {"domain": [0,5.625,11.25,16.875,22.5,28.125,33.75,39.375,45], "range": ["#5010d0","#0a0aff","#0080ff","#00ffff","#80ff80","#ffff00","#ff8000","#ff0000","#cc0000"]}}
  }},
 {"data": {"values": [{"x":0.35,"h":0},{"x":0.6,"h":1e-7},{"x":0.75,"h":2e-7},{"x":0.8,"h":5e-7},{"x":0.86,"h":1.3e-6},{"x":0.93,"h":2.6e-6},{"x":0.97,"h":4.1e-6}]},
  "mark": {"type": "line", "color": "#b57ff2", "strokeWidth": 1.8, "clip": true},
  "encoding": {
   "y": {"field": "h", "type": "quantitative", "scale": {"domain": [0, 0.00006]}, "axis": {"orient": "right", "values": [0,0.00001,0.00002,0.00003,0.00004,0.00005,0.00006], "labels": false, "title": null}}
  }}
], "resolve": {"scale": {"y": "independent"}}},
{"width": 137, "height": 109,
 "encoding": {"x": {"field": "x", "type": "quantitative", "scale": {"domain": [0.2, 1.0]}, "axis": {"values": [0.2, 0.4, 0.6, 0.8, 1.0], "format": ".1f", "title": "RH"}}},
 "layer": [
 {"data": {"values": [{"x":0.386,"y":4.48,"a":1.5},{"x":0.44,"y":4.25,"a":2},{"x":0.47,"y":4.13,"a":2.5},{"x":0.5,"y":4.02,"a":2.5},{"x":0.53,"y":3.9,"a":3},{"x":0.56,"y":3.8,"a":3},{"x":0.59,"y":3.71,"a":3.5},{"x":0.62,"y":3.63,"a":4},{"x":0.65,"y":3.56,"a":4.5},{"x":0.7,"y":3.47,"a":6},{"x":0.73,"y":3.42,"a":7},{"x":0.76,"y":3.38,"a":8.5},{"x":0.79,"y":3.33,"a":10},{"x":0.82,"y":3.27,"a":11.5},{"x":0.85,"y":3.2,"a":14},{"x":0.875,"y":3.16,"a":17},{"x":0.9,"y":3.15,"a":29},{"x":0.92,"y":3.2,"a":33},{"x":0.945,"y":3.32,"a":38},{"x":0.965,"y":3.45,"a":41},{"x":0.985,"y":3.58,"a":43}]},
  "mark": {"type": "point", "filled": true, "size": 72, "opacity": 1},
  "encoding": {
   "y": {"field": "y", "type": "quantitative", "scale": {"domain": [0, 7]}, "axis": {"orient": "left", "values": [0,1,2,3,4,5,6], "labels": false, "title": null}},
   "color": {"field": "a", "type": "quantitative", "scale": {"domain": [0,5.625,11.25,16.875,22.5,28.125,33.75,39.375,45], "range": ["#5010d0","#0a0aff","#0080ff","#00ffff","#80ff80","#ffff00","#ff8000","#ff0000","#cc0000"]}}
  }},
 {"data": {"values": [{"x":0.386,"h":0},{"x":0.58,"h":1e-7},{"x":0.69,"h":1.3e-6},{"x":0.8,"h":3.5e-6},{"x":0.84,"h":5e-6},{"x":0.88,"h":1.14e-5},{"x":0.92,"h":1.97e-5},{"x":0.96,"h":2.9e-5},{"x":0.99,"h":3.9e-5}]},
  "mark": {"type": "line", "color": "#b57ff2", "strokeWidth": 1.8, "clip": true},
  "encoding": {
   "y": {"field": "h", "type": "quantitative", "scale": {"domain": [0, 0.00006]}, "axis": {"orient": "right", "values": [0,0.00001,0.00002,0.00003,0.00004,0.00005,0.00006], "labels": false, "title": null}}
  }}
], "resolve": {"scale": {"y": "independent"}}},
{"width": 137, "height": 109,
 "encoding": {"x": {"field": "x", "type": "quantitative", "scale": {"domain": [0.2, 1.0]}, "axis": {"values": [0.2, 0.4, 0.6, 0.8, 1.0], "format": ".1f", "title": "RH"}}},
 "layer": [
 {"data": {"values": [{"x":0.327,"y":2.21,"a":1.5},{"x":0.35,"y":2.25,"a":1.6},{"x":0.375,"y":2.29,"a":1.8},{"x":0.4,"y":2.33,"a":2},{"x":0.425,"y":2.37,"a":2.2},{"x":0.45,"y":2.42,"a":2.4},{"x":0.475,"y":2.46,"a":2.6},{"x":0.5,"y":2.5,"a":2.8},{"x":0.525,"y":2.54,"a":3},{"x":0.55,"y":2.58,"a":3.2},{"x":0.575,"y":2.63,"a":3.4},{"x":0.6,"y":2.67,"a":3.6},{"x":0.625,"y":2.71,"a":3.8},{"x":0.65,"y":2.75,"a":4},{"x":0.675,"y":2.79,"a":4.2},{"x":0.7,"y":2.84,"a":4.4},{"x":0.725,"y":2.88,"a":4.5},{"x":0.75,"y":2.92,"a":4.6},{"x":0.81,"y":3.02,"a":6},{"x":0.85,"y":3.1,"a":7},{"x":0.92,"y":3.38,"a":15},{"x":0.955,"y":3.55,"a":29},{"x":0.985,"y":3.78,"a":40}]},
  "mark": {"type": "point", "filled": true, "size": 72, "opacity": 1},
  "encoding": {
   "y": {"field": "y", "type": "quantitative", "scale": {"domain": [0, 7]}, "axis": {"orient": "left", "values": [0,1,2,3,4,5,6], "labels": false, "title": null}},
   "color": {"field": "a", "type": "quantitative", "scale": {"domain": [0,5.625,11.25,16.875,22.5,28.125,33.75,39.375,45], "range": ["#5010d0","#0a0aff","#0080ff","#00ffff","#80ff80","#ffff00","#ff8000","#ff0000","#cc0000"]}}
  }},
 {"data": {"values": [{"x":0.327,"h":4.1e-6},{"x":0.54,"h":3.7e-6},{"x":0.78,"h":3.5e-6},{"x":0.81,"h":2.8e-6},{"x":0.89,"h":3.1e-6},{"x":0.94,"h":4.6e-6},{"x":0.987,"h":7.7e-6}]},
  "mark": {"type": "line", "color": "#b57ff2", "strokeWidth": 1.8, "clip": true},
  "encoding": {
   "y": {"field": "h", "type": "quantitative", "scale": {"domain": [0, 0.00006]}, "axis": {"orient": "right", "values": [0,0.00001,0.00002,0.00003,0.00004,0.00005,0.00006], "labels": false, "title": null}}
  }}
], "resolve": {"scale": {"y": "independent"}}},
{"width": 137, "height": 109,
 "encoding": {"x": {"field": "x", "type": "quantitative", "scale": {"domain": [0.2, 1.0]}, "axis": {"values": [0.2, 0.4, 0.6, 0.8, 1.0], "format": ".1f", "title": "RH"}}},
 "layer": [
 {"data": {"values": [{"x":0.422,"y":3.14,"a":5},{"x":0.562,"y":3.25,"a":7.5},{"x":0.587,"y":3.25,"a":7.5},{"x":0.612,"y":3.25,"a":7.5},{"x":0.637,"y":3.25,"a":7.8},{"x":0.695,"y":3.25,"a":13},{"x":0.72,"y":3.25,"a":15.5},{"x":0.745,"y":3.25,"a":17.5},{"x":0.77,"y":3.25,"a":19.5},{"x":0.795,"y":3.26,"a":22},{"x":0.82,"y":3.27,"a":25},{"x":0.845,"y":3.28,"a":29},{"x":0.87,"y":3.31,"a":32},{"x":0.895,"y":3.34,"a":35},{"x":0.92,"y":3.38,"a":38.5},{"x":0.945,"y":3.43,"a":41},{"x":0.97,"y":3.5,"a":43},{"x":0.995,"y":3.6,"a":44}]},
  "mark": {"type": "point", "filled": true, "size": 72, "opacity": 1},
  "encoding": {
   "y": {"field": "y", "type": "quantitative", "scale": {"domain": [0, 7]}, "axis": {"orient": "left", "values": [0,1,2,3,4,5,6], "labels": false, "title": null}},
   "color": {"field": "a", "type": "quantitative", "scale": {"domain": [0,5.625,11.25,16.875,22.5,28.125,33.75,39.375,45], "range": ["#5010d0","#0a0aff","#0080ff","#00ffff","#80ff80","#ffff00","#ff8000","#ff0000","#cc0000"]}}
  }},
 {"data": {"values": [{"x":0.346,"h":1.7e-6},{"x":0.508,"h":3.1e-6},{"x":0.643,"h":4.6e-6},{"x":0.751,"h":7.7e-6},{"x":0.832,"h":1.27e-5},{"x":0.886,"h":1.79e-5},{"x":0.927,"h":2.44e-5},{"x":0.954,"h":3.27e-5},{"x":0.981,"h":4.65e-5}]},
  "mark": {"type": "line", "color": "#b57ff2", "strokeWidth": 1.8, "clip": true},
  "encoding": {
   "y": {"field": "h", "type": "quantitative", "scale": {"domain": [0, 0.00006]}, "axis": {"orient": "right", "values": [0,0.00001,0.00002,0.00003,0.00004,0.00005,0.00006], "labelExpr": "datum.value == 0 ? '0E+0' : (round(datum.value * 100000) % 2 == 0 ? round(datum.value * 100000) + 'E−5' : '')", "title": "Hₐᵢᵣ⁺ (ng m⁻³)", "titlePadding": 6}}
  }}
], "resolve": {"scale": {"y": "independent"}}},
{"width": 137, "height": 109,
 "encoding": {"x": {"field": "x", "type": "quantitative", "scale": {"domain": [270, 305]}, "axis": {"values": [270, 280, 290, 300], "title": "T (K)"}}},
 "layer": [
 {"data": {"values": [{"x":273,"y":5.06,"a":20.5},{"x":274,"y":5.02,"a":20.5},{"x":275,"y":4.98,"a":20.5},{"x":276,"y":4.93,"a":20},{"x":277,"y":4.89,"a":20},{"x":278,"y":4.85,"a":20},{"x":279,"y":4.8,"a":20},{"x":280,"y":4.76,"a":20},{"x":281,"y":4.71,"a":20},{"x":282,"y":4.66,"a":20},{"x":283,"y":4.6,"a":20},{"x":284,"y":4.55,"a":20},{"x":287,"y":4.37,"a":20},{"x":288,"y":4.34,"a":20},{"x":289,"y":4.3,"a":20},{"x":290,"y":4.27,"a":20},{"x":291,"y":4.23,"a":20},{"x":292,"y":4.2,"a":20}]},
  "mark": {"type": "point", "filled": true, "size": 72, "opacity": 1},
  "encoding": {
   "y": {"field": "y", "type": "quantitative", "scale": {"domain": [0, 7]}, "axis": {"orient": "left", "values": [0,1,2,3,4,5,6], "labelExpr": "datum.value % 2 == 0 ? datum.label : ''", "title": "pH", "titleFontSize": 18, "titlePadding": 4}},
   "color": {"field": "a", "type": "quantitative", "scale": {"domain": [0,5.625,11.25,16.875,22.5,28.125,33.75,39.375,45], "range": ["#5010d0","#0a0aff","#0080ff","#00ffff","#80ff80","#ffff00","#ff8000","#ff0000","#cc0000"]}}
  }},
 {"data": {"values": [{"x":273.5,"h":2e-7},{"x":284.7,"h":4e-7},{"x":290.6,"h":6e-7},{"x":291.5,"h":1.3e-6},{"x":292,"h":7e-7}]},
  "mark": {"type": "line", "color": "#b57ff2", "strokeWidth": 1.8, "clip": true},
  "encoding": {
   "y": {"field": "h", "type": "quantitative", "scale": {"domain": [0, 0.00006]}, "axis": {"orient": "right", "values": [0,0.00001,0.00002,0.00003,0.00004,0.00005,0.00006], "labels": false, "title": null}}
  }}
], "resolve": {"scale": {"y": "independent"}}},
{"width": 137, "height": 109,
 "encoding": {"x": {"field": "x", "type": "quantitative", "scale": {"domain": [270, 305]}, "axis": {"values": [270, 280, 290, 300], "title": "T (K)"}}},
 "layer": [
 {"data": {"values": [{"x":281,"y":4.37,"a":7.5},{"x":282,"y":4.33,"a":7.5},{"x":283,"y":4.27,"a":7},{"x":284,"y":4.15,"a":6.5},{"x":285,"y":3.98,"a":5.8},{"x":286,"y":3.9,"a":5.5},{"x":287,"y":3.83,"a":5.3},{"x":288,"y":3.77,"a":5.2},{"x":289,"y":3.73,"a":5},{"x":290,"y":3.69,"a":5},{"x":291,"y":3.66,"a":4.8},{"x":294.5,"y":3.55,"a":4},{"x":295.5,"y":3.51,"a":3.8},{"x":296.5,"y":3.46,"a":3.5},{"x":297.5,"y":3.4,"a":3.3},{"x":298.5,"y":3.33,"a":3},{"x":299.5,"y":3.26,"a":2.8},{"x":300.5,"y":3.2,"a":2.5},{"x":301,"y":3.18,"a":2.5}]},
  "mark": {"type": "point", "filled": true, "size": 72, "opacity": 1},
  "encoding": {
   "y": {"field": "y", "type": "quantitative", "scale": {"domain": [0, 7]}, "axis": {"orient": "left", "values": [0,1,2,3,4,5,6], "labels": false, "title": null}},
   "color": {"field": "a", "type": "quantitative", "scale": {"domain": [0,5.625,11.25,16.875,22.5,28.125,33.75,39.375,45], "range": ["#5010d0","#0a0aff","#0080ff","#00ffff","#80ff80","#ffff00","#ff8000","#ff0000","#cc0000"]}}
  }},
 {"data": {"values": [{"x":280.8,"h":0},{"x":286.7,"h":6e-7},{"x":298.5,"h":6e-7},{"x":300.9,"h":2e-7}]},
  "mark": {"type": "line", "color": "#b57ff2", "strokeWidth": 1.8, "clip": true},
  "encoding": {
   "y": {"field": "h", "type": "quantitative", "scale": {"domain": [0, 0.00006]}, "axis": {"orient": "right", "values": [0,0.00001,0.00002,0.00003,0.00004,0.00005,0.00006], "labels": false, "title": null}}
  }}
], "resolve": {"scale": {"y": "independent"}}},
{"width": 137, "height": 109,
 "encoding": {"x": {"field": "x", "type": "quantitative", "scale": {"domain": [270, 305]}, "axis": {"values": [270, 280, 290, 300], "title": "T (K)"}}},
 "layer": [
 {"data": {"values": [{"x":290.8,"y":3.29,"a":5},{"x":293.8,"y":3.14,"a":5},{"x":295,"y":3.05,"a":5},{"x":296,"y":2.98,"a":5},{"x":297,"y":2.93,"a":5},{"x":298,"y":2.87,"a":5},{"x":299,"y":2.82,"a":5},{"x":300,"y":2.76,"a":5},{"x":301,"y":2.71,"a":5},{"x":302,"y":2.65,"a":5},{"x":303,"y":2.6,"a":5},{"x":304,"y":2.55,"a":5},{"x":304.8,"y":2.51,"a":5}]},
  "mark": {"type": "point", "filled": true, "size": 72, "opacity": 1},
  "encoding": {
   "y": {"field": "y", "type": "quantitative", "scale": {"domain": [0, 7]}, "axis": {"orient": "left", "values": [0,1,2,3,4,5,6], "labels": false, "title": null}},
   "color": {"field": "a", "type": "quantitative", "scale": {"domain": [0,5.625,11.25,16.875,22.5,28.125,33.75,39.375,45], "range": ["#5010d0","#0a0aff","#0080ff","#00ffff","#80ff80","#ffff00","#ff8000","#ff0000","#cc0000"]}}
  }},
 {"data": {"values": [{"x":290.8,"h":9e-7},{"x":295.6,"h":1.8e-6},{"x":300.3,"h":3.5e-6},{"x":305,"h":4.6e-6}]},
  "mark": {"type": "line", "color": "#b57ff2", "strokeWidth": 1.8, "clip": true},
  "encoding": {
   "y": {"field": "h", "type": "quantitative", "scale": {"domain": [0, 0.00006]}, "axis": {"orient": "right", "values": [0,0.00001,0.00002,0.00003,0.00004,0.00005,0.00006], "labels": false, "title": null}}
  }}
], "resolve": {"scale": {"y": "independent"}}},
{"width": 137, "height": 109,
 "encoding": {"x": {"field": "x", "type": "quantitative", "scale": {"domain": [270, 305]}, "axis": {"values": [270, 280, 290, 300], "title": "T (K)"}}},
 "layer": [
 {"data": {"values": [{"x":283,"y":3.66,"a":24},{"x":284,"y":3.62,"a":23.5},{"x":285,"y":3.56,"a":23},{"x":286,"y":3.52,"a":22.5},{"x":287,"y":3.48,"a":22},{"x":288,"y":3.44,"a":21.5},{"x":289,"y":3.37,"a":21},{"x":290,"y":3.32,"a":20},{"x":291,"y":3.27,"a":19.5},{"x":292,"y":3.22,"a":19},{"x":293,"y":3.18,"a":18.5},{"x":294,"y":3.13,"a":18},{"x":295,"y":3.1,"a":17.5},{"x":296,"y":3.06,"a":17},{"x":297,"y":3.02,"a":16.5},{"x":298,"y":2.98,"a":16},{"x":299,"y":2.95,"a":15.5},{"x":300,"y":2.9,"a":15}]},
  "mark": {"type": "point", "filled": true, "size": 72, "opacity": 1},
  "encoding": {
   "y": {"field": "y", "type": "quantitative", "scale": {"domain": [0, 7]}, "axis": {"orient": "left", "values": [0,1,2,3,4,5,6], "labels": false, "title": null}},
   "color": {"field": "a", "type": "quantitative", "scale": {"domain": [0,5.625,11.25,16.875,22.5,28.125,33.75,39.375,45], "range": ["#5010d0","#0a0aff","#0080ff","#00ffff","#80ff80","#ffff00","#ff8000","#ff0000","#cc0000"]}}
  }},
 {"data": {"values": [{"x":282.9,"h":5e-6},{"x":285.8,"h":6.3e-6},{"x":288.2,"h":6.3e-6},{"x":290,"h":8.3e-6},{"x":292.9,"h":1.05e-5},{"x":295.3,"h":1.2e-5},{"x":297.7,"h":1.33e-5},{"x":299.8,"h":1.44e-5}]},
  "mark": {"type": "line", "color": "#b57ff2", "strokeWidth": 1.8, "clip": true},
  "encoding": {
   "y": {"field": "h", "type": "quantitative", "scale": {"domain": [0, 0.00006]}, "axis": {"orient": "right", "values": [0,0.00001,0.00002,0.00003,0.00004,0.00005,0.00006], "labelExpr": "datum.value == 0 ? '0E+0' : (round(datum.value * 100000) % 2 == 0 ? round(datum.value * 100000) + 'E−5' : '')", "title": "Hₐᵢᵣ⁺ (ng m⁻³)", "titlePadding": 6}}
  }}
], "resolve": {"scale": {"y": "independent"}}},
{"width": 137, "height": 109,
 "encoding": {"x": {"field": "x", "type": "quantitative", "scale": {"domain": [0, 4]}, "axis": {"values": [0, 1, 2, 3, 4], "title": "Ca²⁺ (μg m⁻³)"}}},
 "layer": [
 {"data": {"values": [{"x":0.05,"y":4.45,"a":26},{"x":0.18,"y":4.48,"a":25.6},{"x":0.31,"y":4.51,"a":25.2},{"x":0.44,"y":4.54,"a":24.8},{"x":0.57,"y":4.57,"a":24.4},{"x":0.7,"y":4.6,"a":24},{"x":0.83,"y":4.63,"a":23.6},{"x":0.96,"y":4.66,"a":23.2},{"x":1.09,"y":4.69,"a":22.8},{"x":1.22,"y":4.71,"a":22.4},{"x":1.35,"y":4.74,"a":22},{"x":1.48,"y":4.77,"a":21.6},{"x":1.61,"y":4.8,"a":21.2},{"x":1.74,"y":4.83,"a":20.8},{"x":1.87,"y":4.86,"a":20.4},{"x":2.0,"y":4.89,"a":20},{"x":2.13,"y":4.92,"a":19.6},{"x":2.26,"y":4.95,"a":19.2},{"x":2.39,"y":4.97,"a":18.8},{"x":2.52,"y":4.99,"a":18.4},{"x":2.83,"y":5.0,"a":17},{"x":3.2,"y":5.0,"a":16.5},{"x":3.57,"y":5.0,"a":16},{"x":3.87,"y":5.0,"a":16}]},
  "mark": {"type": "point", "filled": true, "size": 72, "opacity": 1},
  "encoding": {
   "y": {"field": "y", "type": "quantitative", "scale": {"domain": [0, 7]}, "axis": {"orient": "left", "values": [0,1,2,3,4,5,6], "labelExpr": "datum.value % 2 == 0 ? datum.label : ''", "title": "pH", "titleFontSize": 18, "titlePadding": 4}},
   "color": {"field": "a", "type": "quantitative", "scale": {"domain": [0,5.625,11.25,16.875,22.5,28.125,33.75,39.375,45], "range": ["#5010d0","#0a0aff","#0080ff","#00ffff","#80ff80","#ffff00","#ff8000","#ff0000","#cc0000"]}}
  }},
 {"data": {"values": [{"x":0.07,"h":4e-7},{"x":1.68,"h":4e-7},{"x":3.97,"h":0}]},
  "mark": {"type": "line", "color": "#b57ff2", "strokeWidth": 1.8, "clip": true},
  "encoding": {
   "y": {"field": "h", "type": "quantitative", "scale": {"domain": [0, 0.00006]}, "axis": {"orient": "right", "values": [0,0.00001,0.00002,0.00003,0.00004,0.00005,0.00006], "labels": false, "title": null}}
  }}
], "resolve": {"scale": {"y": "independent"}}},
{"width": 137, "height": 109,
 "encoding": {"x": {"field": "x", "type": "quantitative", "scale": {"domain": [0, 4]}, "axis": {"values": [0, 1, 2, 3, 4], "title": "Ca²⁺ (μg m⁻³)"}}},
 "layer": [
 {"data": {"values": [{"x":0.19,"y":3.06,"a":7.5},{"x":0.32,"y":3.13,"a":7.2},{"x":0.45,"y":3.21,"a":7},{"x":0.58,"y":3.28,"a":6.7},{"x":0.71,"y":3.35,"a":6.4},{"x":0.84,"y":3.42,"a":6.2},{"x":0.97,"y":3.49,"a":6},{"x":1.1,"y":3.56,"a":5.8},{"x":1.23,"y":3.63,"a":5.5},{"x":1.36,"y":3.66,"a":5.3},{"x":1.49,"y":3.67,"a":5.2},{"x":1.6,"y":3.66,"a":5.2},{"x":1.91,"y":3.6,"a":5},{"x":2.25,"y":3.6,"a":5},{"x":2.55,"y":3.6,"a":5},{"x":2.88,"y":3.6,"a":5}]},
  "mark": {"type": "point", "filled": true, "size": 72, "opacity": 1},
  "encoding": {
   "y": {"field": "y", "type": "quantitative", "scale": {"domain": [0, 7]}, "axis": {"orient": "left", "values": [0,1,2,3,4,5,6], "labels": false, "title": null}},
   "color": {"field": "a", "type": "quantitative", "scale": {"domain": [0,5.625,11.25,16.875,22.5,28.125,33.75,39.375,45], "range": ["#5010d0","#0a0aff","#0080ff","#00ffff","#80ff80","#ffff00","#ff8000","#ff0000","#cc0000"]}}
  }},
 {"data": {"values": [{"x":0.27,"h":4.3e-6},{"x":0.7,"h":2.4e-6},{"x":1.1,"h":1.1e-6},{"x":1.51,"h":4e-7},{"x":2.86,"h":2e-7}]},
  "mark": {"type": "line", "color": "#b57ff2", "strokeWidth": 1.8, "clip": true},
  "encoding": {
   "y": {"field": "h", "type": "quantitative", "scale": {"domain": [0, 0.00006]}, "axis": {"orient": "right", "values": [0,0.00001,0.00002,0.00003,0.00004,0.00005,0.00006], "labels": false, "title": null}}
  }}
], "resolve": {"scale": {"y": "independent"}}},
{"width": 137, "height": 109,
 "encoding": {"x": {"field": "x", "type": "quantitative", "scale": {"domain": [0, 2]}, "axis": {"values": [0, 0.5, 1, 1.5, 2], "format": ".1f", "title": "Ca²⁺ (μg m⁻³)"}}},
 "layer": [
 {"data": {"values": [{"x":0.08,"y":2.31,"a":5.5},{"x":0.14,"y":2.34,"a":5.5},{"x":0.2,"y":2.36,"a":5.6},{"x":0.26,"y":2.39,"a":5.7},{"x":0.32,"y":2.41,"a":5.8},{"x":0.38,"y":2.44,"a":5.9},{"x":0.44,"y":2.46,"a":6},{"x":0.5,"y":2.49,"a":6.1},{"x":0.56,"y":2.52,"a":6.2},{"x":0.62,"y":2.54,"a":6.3},{"x":0.68,"y":2.57,"a":6.4},{"x":0.74,"y":2.6,"a":6.5},{"x":0.8,"y":2.62,"a":6.5},{"x":0.96,"y":2.96,"a":6.5},{"x":1.02,"y":3.06,"a":6.5}]},
  "mark": {"type": "point", "filled": true, "size": 72, "opacity": 1},
  "encoding": {
   "y": {"field": "y", "type": "quantitative", "scale": {"domain": [0, 7]}, "axis": {"orient": "left", "values": [0,1,2,3,4,5,6], "labels": false, "title": null}},
   "color": {"field": "a", "type": "quantitative", "scale": {"domain": [0,5.625,11.25,16.875,22.5,28.125,33.75,39.375,45], "range": ["#5010d0","#0a0aff","#0080ff","#00ffff","#80ff80","#ffff00","#ff8000","#ff0000","#cc0000"]}}
  }},
 {"data": {"values": [{"x":0.11,"h":1.29e-5},{"x":0.25,"h":1.07e-5},{"x":0.45,"h":7.6e-6},{"x":0.65,"h":4.8e-6},{"x":0.86,"h":2.4e-6},{"x":1.02,"h":6e-7}]},
  "mark": {"type": "line", "color": "#b57ff2", "strokeWidth": 1.8, "clip": true},
  "encoding": {
   "y": {"field": "h", "type": "quantitative", "scale": {"domain": [0, 0.00006]}, "axis": {"orient": "right", "values": [0,0.00001,0.00002,0.00003,0.00004,0.00005,0.00006], "labels": false, "title": null}}
  }}
], "resolve": {"scale": {"y": "independent"}}},
{"width": 137, "height": 109,
 "encoding": {"x": {"field": "x", "type": "quantitative", "scale": {"domain": [0, 4]}, "axis": {"values": [0, 1, 2, 3, 4], "title": "Ca²⁺ (μg m⁻³)"}}},
 "layer": [
 {"data": {"values": [{"x":0.05,"y":3.1,"a":24},{"x":0.18,"y":3.16,"a":23},{"x":0.31,"y":3.21,"a":22},{"x":0.44,"y":3.25,"a":21},{"x":0.57,"y":3.28,"a":20.5},{"x":0.7,"y":3.3,"a":20},{"x":0.83,"y":3.32,"a":19},{"x":0.96,"y":3.35,"a":18.5},{"x":1.09,"y":3.38,"a":18},{"x":1.6,"y":3.34,"a":16}]},
  "mark": {"type": "point", "filled": true, "size": 72, "opacity": 1},
  "encoding": {
   "y": {"field": "y", "type": "quantitative", "scale": {"domain": [0, 7]}, "axis": {"orient": "left", "values": [0,1,2,3,4,5,6], "labels": false, "title": null}},
   "color": {"field": "a", "type": "quantitative", "scale": {"domain": [0,5.625,11.25,16.875,22.5,28.125,33.75,39.375,45], "range": ["#5010d0","#0a0aff","#0080ff","#00ffff","#80ff80","#ffff00","#ff8000","#ff0000","#cc0000"]}}
  }},
 {"data": {"values": [{"x":0.12,"h":1.22e-5},{"x":0.46,"h":9.8e-6},{"x":0.8,"h":7.4e-6},{"x":1.13,"h":5.9e-6},{"x":1.6,"h":5.5e-6}]},
  "mark": {"type": "line", "color": "#b57ff2", "strokeWidth": 1.8, "clip": true},
  "encoding": {
   "y": {"field": "h", "type": "quantitative", "scale": {"domain": [0, 0.00006]}, "axis": {"orient": "right", "values": [0,0.00001,0.00002,0.00003,0.00004,0.00005,0.00006], "labelExpr": "datum.value == 0 ? '0E+0' : (round(datum.value * 100000) % 2 == 0 ? round(datum.value * 100000) + 'E−5' : '')", "title": "Hₐᵢᵣ⁺ (ng m⁻³)", "titlePadding": 6}}
  }}
], "resolve": {"scale": {"y": "independent"}}}
],
"config": {
 "view": {"stroke": "black", "strokeWidth": 1},
 "axis": {"grid": false, "domainColor": "black", "domainWidth": 1, "tickColor": "black", "tickSize": -4, "tickWidth": 1, "labelPadding": 7, "labelFont": "Liberation Serif", "labelFontSize": 14, "labelFontWeight": "bold", "labelColor": "black", "labelFlush": false, "labelOverlap": false, "titleFont": "Liberation Serif", "titleFontSize": 16, "titleFontWeight": "bold", "titleColor": "black", "titlePadding": 2},
 "title": {"font": "Liberation Serif", "fontSize": 17, "fontWeight": "bold", "color": "black", "offset": 2}
}
}
